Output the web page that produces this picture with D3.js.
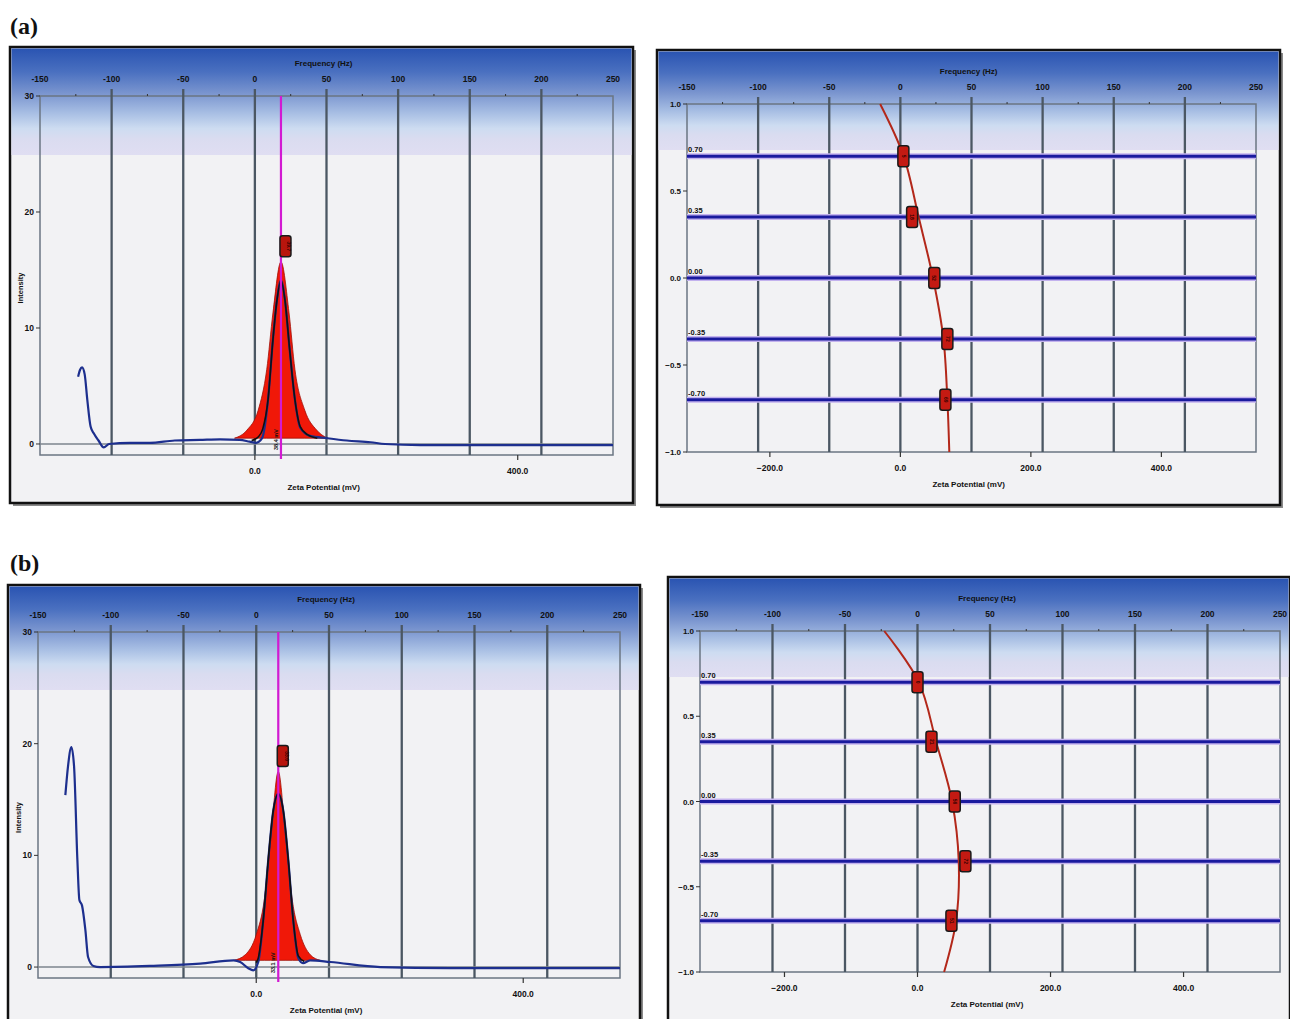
<!DOCTYPE html>
<html>
<head>
<meta charset="utf-8">
<script src="https://cdn.jsdelivr.net/npm/d3@7"></script>
<style>
  body { margin: 0; background: #fff; }
  svg { display: block; }
  text { font-family: "Liberation Sans", Arial, sans-serif; font-weight: bold; fill: #111; }
</style>
</head>
<body>
<svg width="1290" height="1019"></svg>
<script>
// ---- data ----
const freqTicks = [-150, -100, -50, 0, 50, 100, 150, 200, 250];
const freqGrid = [-100, -50, 0, 50, 100, 150, 200];
const freqMinor = [-125, -75, -25, 25, 75, 125, 175, 225];
const zetaPerHz = 2.18;
const zetaTicksLeft = [0, 400];
const zetaTicksRight = [-200, 0, 200, 400];
const intensityTicks = [0, 10, 20, 30];
const phaseTicks = [-1, -0.5, 0, 0.5, 1];
const levels = [0.70, 0.35, 0.00, -0.35, -0.70];
const levelLabels = ["0.70", "0.35", "0.00", "-0.35", "-0.70"];

// (a) measured intensity vs zeta potential [mV, intensity]
const specA = [[-269,5.8],[-266,6.4],[-263,6.6],[-259,6.0],[-255,3.8],[-250,1.5],[-245,0.9],[-238,0.3],[-230,-0.3],[-222,0],
  [-190,0.1],[-160,0.1],[-122,0.3],[-84,0.35],[-53,0.4],[-23,0.35],[-8,0.2],[2,0.1],[11,0.5],[20,3.8],[27.5,9.0],
  [33.6,12.4],[39.7,14.1],[45.8,12.4],[53,8.1],[61,3.8],[69,1.4],[84,0.7],[110,0.5],[140,0.3],[176,0.15],[198,0],
  [252,-0.1],[400,-0.1],[545,-0.1]];
const fitA = [[-5,0.3],[5,0.6],[12,1.3],[20,3.8],[27.5,9.0],[33.6,12.4],[39.7,14.1],[45.8,12.4],[53,8.1],[61,3.8],[69,1.5],[80,0.8],[95,0.5]];
const peakA = [[-31,0.5],[-12,1.2],[5,2.9],[18,6.4],[27.5,11.3],[39.7,15.7],[52,11.3],[61,6.4],[76,2.9],[94,1.2],[110,0.5]];
const peakPosA = 39.7;
const peakLabelA = "38.4 mV";

// (b)
const specB = [[-286,15.4],[-282,18],[-277,19.7],[-273,18],[-268,9.6],[-265,6.0],[-261,5.5],[-256,3.3],[-252,0.9],[-244,0.1],
  [-234,0],[-159,0.1],[-84,0.3],[-34,0.6],[-24,0.45],[-12,-0.1],[-4.5,-0.3],[3,0.45],[10.5,4.2],[18,9.6],[25.5,14],
  [33,15.5],[40.5,14],[48,9.6],[55.4,4.2],[63,0.8],[70,0.35],[81,0.6],[111,0.45],[186,0],[291,-0.1],[545,-0.1]];
const fitB = [[0,0.4],[3,0.8],[10.5,4.2],[18,9.6],[25.5,14],[33,15.5],[40.5,14],[48,9.6],[55.4,4.2],[63,1.0],[72,0.5]];
const peakB = [[-34,0.6],[-16.5,1.1],[0,2.9],[12,6],[21.5,11.3],[33,17.5],[44.5,11.3],[54,6],[66,2.9],[81,1.1],[96,0.6]];
const peakPosB = 33;
const peakLabelB = "33.1 mV";

// phase plots: marker zeta per level, and fitted curve [mV, level]
const markersA = [4.6, 18, 52, 72, 69];
const curveA = [[-31,1.0],[5,0.7],[28,0.35],[50,0],[66,-0.35],[72,-0.7],[75,-1.0]];
const markersB = [0, 21, 56, 72, 51];
const curveB = [[-50,1.0],[2,0.7],[28,0.35],[52,0],[62,-0.35],[58,-0.7],[40,-1.0]];

// ---- drawing ----
const svg = d3.select("svg");
const defs = svg.append("defs");

const grad = defs.append("linearGradient").attr("id", "hdr").attr("x1", 0).attr("x2", 0).attr("y1", 0).attr("y2", 1);
[[0, "#2a54b2"], [0.22, "#4a70c0"], [0.42, "#7a95cf"], [0.6, "#a6bde3"], [0.75, "#cddcf1"], [0.85, "#dadcf0"], [1, "#e0def2"]]
  .forEach(s => grad.append("stop").attr("offset", s[0]).attr("stop-color", s[1]));

function frame(x0, y0, x1, y1, hdrBottom) {
  const g = svg.append("g");
  g.append("rect").attr("x", x0 + 3).attr("y", y0 + 3).attr("width", x1 - x0).attr("height", y1 - y0).attr("fill", "#8a8a8a");
  g.append("rect").attr("x", x0).attr("y", y0).attr("width", x1 - x0).attr("height", y1 - y0)
    .attr("fill", "#f2f2f4").attr("stroke", "#111").attr("stroke-width", 2.5);
  g.append("rect").attr("x", x0 + 1.5).attr("y", y0 + 1.5).attr("width", x1 - x0 - 3).attr("height", hdrBottom - y0 - 1.5)
    .attr("fill", "url(#hdr)");
  return g;
}

function topAxis(g, fx, ytop, ybot) {
  g.selectAll(null).data(freqGrid).enter().append("line")
    .attr("x1", d => fx(d)).attr("x2", d => fx(d)).attr("y1", ytop - 7).attr("y2", ybot)
    .attr("stroke", "#4b5763").attr("stroke-width", 2.3);
  g.selectAll(null).data(freqMinor).enter().append("line")
    .attr("x1", d => fx(d)).attr("x2", d => fx(d)).attr("y1", ytop - 2).attr("y2", ytop)
    .attr("stroke", "#333").attr("stroke-width", 1);
  g.selectAll(null).data(freqTicks).enter().append("text")
    .attr("x", d => fx(d)).attr("y", ytop - 14).attr("text-anchor", "middle").attr("font-size", 8.5)
    .text(d => d);
  g.append("text").attr("x", fx(48)).attr("y", ytop - 30).attr("text-anchor", "middle").attr("font-size", 8)
    .text("Frequency (Hz)");
}

function bottomAxis(g, zx, ybot, ticks, fx) {
  g.selectAll(null).data(ticks).enter().append("line")
    .attr("x1", d => zx(d)).attr("x2", d => zx(d)).attr("y1", ybot).attr("y2", ybot + 5)
    .attr("stroke", "#333").attr("stroke-width", 1.2);
  g.selectAll(null).data(ticks).enter().append("text")
    .attr("x", d => zx(d)).attr("y", ybot + 19).attr("text-anchor", "middle").attr("font-size", 8.5)
    .text(d => d3.format(".1f")(d));
  g.append("text").attr("x", fx(48)).attr("y", ybot + 35).attr("text-anchor", "middle").attr("font-size", 8)
    .text("Zeta Potential (mV)");
}

function drawSpectrum(cfg) {
  const g = frame(cfg.frame[0], cfg.frame[1], cfg.frame[2], cfg.frame[3], cfg.hdr);
  const [L, T, R, B] = cfg.plot;
  const fx = d3.scaleLinear().domain([-150, 250]).range([L, R]);
  const zx = d3.scaleLinear().domain([-150 * zetaPerHz, 250 * zetaPerHz]).range([L, R]);
  const y = d3.scaleLinear().domain(cfg.ydom).range([B, T]);

  g.append("rect").attr("x", L).attr("y", T).attr("width", R - L).attr("height", B - T)
    .attr("fill", "none").attr("stroke", "#6b7682").attr("stroke-width", 1.5);
  topAxis(g, fx, T, B);
  bottomAxis(g, zx, B, zetaTicksLeft, fx);

  // y axis
  g.selectAll(null).data(intensityTicks).enter().append("line")
    .attr("x1", L - 4).attr("x2", L).attr("y1", d => y(d)).attr("y2", d => y(d)).attr("stroke", "#333");
  g.selectAll(null).data(intensityTicks).enter().append("text")
    .attr("x", L - 6).attr("y", d => y(d) + 3).attr("text-anchor", "end").attr("font-size", 8.5).text(d => d);
  g.append("text").attr("transform", `translate(${L - 17},${(y(10) + y(20)) / 2 + 18}) rotate(-90)`)
    .attr("text-anchor", "middle").attr("font-size", 7.5).text("Intensity");

  // zero baseline
  g.append("line").attr("x1", L).attr("x2", R).attr("y1", y(0)).attr("y2", y(0))
    .attr("stroke", "#7c858e").attr("stroke-width", 1.5);

  const line = d3.line().x(d => zx(d[0])).y(d => y(d[1])).curve(d3.curveMonotoneX);
  const area = d3.area().x(d => zx(d[0])).y0(y(cfg.peak[0][1])).y1(d => y(d[1])).curve(d3.curveMonotoneX);

  g.append("path").datum(cfg.peak).attr("d", area).attr("fill", "#f01808").attr("stroke", "#a01008").attr("stroke-width", 0.8);
  g.append("path").datum(cfg.spec).attr("d", line).attr("fill", "none").attr("stroke", "#1d2f8e").attr("stroke-width", 2.2);
  g.append("path").datum(cfg.fit).attr("d", line).attr("fill", "none").attr("stroke", "#111").attr("stroke-width", 1.6);

  // peak marker line
  const px = zx(cfg.peakPos);
  g.append("line").attr("x1", px).attr("x2", px).attr("y1", T).attr("y2", B + 4)
    .attr("stroke", "#d21ad2").attr("stroke-width", 2.2);
  const tip = d3.max(cfg.peak, d => d[1]);
  g.append("rect").attr("x", px - 1).attr("y", y(tip) - 26).attr("width", 11).attr("height", 21).attr("rx", 2.5)
    .attr("fill", "#b8150d").attr("stroke", "#1a1a1a").attr("stroke-width", 1.5);
  g.append("text").attr("transform", `translate(${px + 6.5},${y(tip) - 15.5}) rotate(90)`)
    .attr("text-anchor", "middle").attr("font-size", 5).style("fill", "#300").text(cfg.peakPos.toFixed(1));
  g.append("text").attr("transform", `translate(${px - 3},${y(0) + 6}) rotate(-90)`)
    .attr("text-anchor", "start").attr("font-size", 5.5).text(cfg.peakLabel);
}

function drawPhase(cfg) {
  const g = frame(cfg.frame[0], cfg.frame[1], cfg.frame[2], cfg.frame[3], cfg.hdr);
  const [L, T, R, B] = cfg.plot;
  const fx = d3.scaleLinear().domain([-150, 250]).range([L, R]);
  const zx = d3.scaleLinear().domain([-150 * zetaPerHz, 250 * zetaPerHz]).range([L, R]);
  const y = d3.scaleLinear().domain([-1, 1]).range([B, T]);

  g.append("rect").attr("x", L).attr("y", T).attr("width", R - L).attr("height", B - T)
    .attr("fill", "none").attr("stroke", "#6b7682").attr("stroke-width", 1.5);
  topAxis(g, fx, T, B);
  bottomAxis(g, zx, B, zetaTicksRight, fx);

  g.selectAll(null).data(phaseTicks).enter().append("line")
    .attr("x1", L - 4).attr("x2", L).attr("y1", d => y(d)).attr("y2", d => y(d)).attr("stroke", "#333");
  g.selectAll(null).data(phaseTicks).enter().append("text")
    .attr("x", L - 6).attr("y", d => y(d) + 3).attr("text-anchor", "end").attr("font-size", 8)
    .text(d => d3.format(".1f")(d));

  // level lines
  g.selectAll(null).data(levels).enter().append("line")
    .attr("x1", L).attr("x2", R).attr("y1", d => y(d)).attr("y2", d => y(d))
    .attr("stroke", "#c3b2ee").attr("stroke-width", 6);
  g.selectAll(null).data(levels).enter().append("line")
    .attr("x1", L).attr("x2", R).attr("y1", d => y(d)).attr("y2", d => y(d))
    .attr("stroke", "#1a1a9e").attr("stroke-width", 3);
  g.selectAll(null).data(levels).enter().append("text")
    .attr("x", L + 1).attr("y", d => y(d) - 4).attr("font-size", 7.5).text((d, i) => levelLabels[i]);

  const line = d3.line().x(d => zx(d[0])).y(d => y(d[1])).curve(d3.curveCatmullRom);
  g.append("path").datum(cfg.curve).attr("d", line).attr("fill", "none").attr("stroke", "#b3281a").attr("stroke-width", 2);

  const mk = g.selectAll(null).data(cfg.markers).enter().append("g")
    .attr("transform", (d, i) => `translate(${zx(d)},${y(levels[i])})`);
  mk.append("rect").attr("x", -5.5).attr("y", -10.5).attr("width", 11).attr("height", 21).attr("rx", 2.5)
    .attr("fill", "#c41a12").attr("stroke", "#1a1a1a").attr("stroke-width", 1.5);
  mk.append("text").attr("transform", "rotate(90)").attr("text-anchor", "middle").attr("y", 1.8)
    .attr("font-size", 5).style("fill", "#300").text(d => d.toFixed(0));
}

drawSpectrum({ frame: [10, 47, 633, 503], hdr: 155, plot: [40, 96, 613, 455], ydom: [-0.95, 30],
  spec: specA, fit: fitA, peak: peakA, peakPos: peakPosA, peakLabel: peakLabelA });
drawPhase({ frame: [657, 50, 1280, 505], hdr: 150, plot: [687, 104, 1256, 452], markers: markersA, curve: curveA });
drawSpectrum({ frame: [8, 585, 640, 1030], hdr: 690, plot: [38, 632, 620, 978], ydom: [-0.98, 30],
  spec: specB, fit: fitB, peak: peakB, peakPos: peakPosB, peakLabel: peakLabelB });
drawPhase({ frame: [668, 577, 1290, 1030], hdr: 677, plot: [700, 631, 1280, 972], markers: markersB, curve: curveB });

svg.append("text").attr("x", 10).attr("y", 34).attr("font-size", 24)
  .style("font-family", "'Liberation Serif', 'Times New Roman', serif").text("(a)");
svg.append("text").attr("x", 10).attr("y", 571).attr("font-size", 24)
  .style("font-family", "'Liberation Serif', 'Times New Roman', serif").text("(b)");
</script>
</body>
</html>
